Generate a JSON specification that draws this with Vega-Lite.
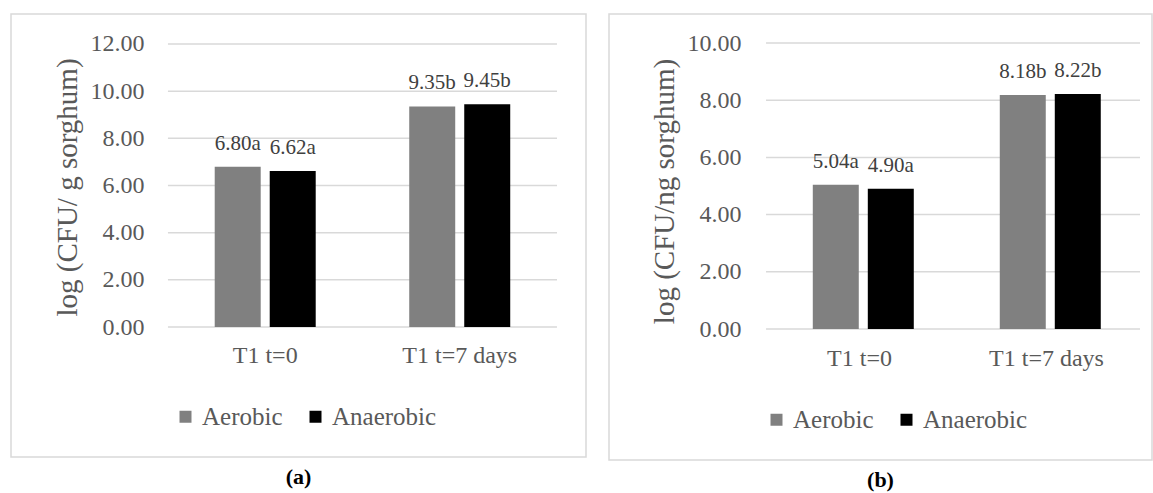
{
  "$schema": "https://vega.github.io/schema/vega-lite/v6.json",
  "padding": {"left": 10, "top": 13, "right": 0, "bottom": 0},
  "spacing": 21,
  "background": "white",
  "config": {
    "view": {"stroke": "#d9d9d9", "strokeWidth": 1.5},
    "font": "Liberation Serif",
    "axis": {"labelFont": "Liberation Serif", "titleFont": "Liberation Serif", "labelColor": "#595959", "titleColor": "#595959", "titleFontWeight": "normal", "grid": false, "domain": false, "ticks": false, "tickSize": 0},
    "legend": {"labelFont": "Liberation Serif", "labelColor": "#595959"},
    "title": {"font": "Liberation Serif"}
  },
  "datasets": {
    "a": [
      {"period": "T1 t=0", "condition": "Aerobic", "value": 6.80, "label": "6.80a"},
      {"period": "T1 t=0", "condition": "Anaerobic", "value": 6.62, "label": "6.62a"},
      {"period": "T1 t=7 days", "condition": "Aerobic", "value": 9.35, "label": "9.35b"},
      {"period": "T1 t=7 days", "condition": "Anaerobic", "value": 9.45, "label": "9.45b"}
    ],
    "b": [
      {"period": "T1 t=0", "condition": "Aerobic", "value": 5.04, "label": "5.04a"},
      {"period": "T1 t=0", "condition": "Anaerobic", "value": 4.90, "label": "4.90a"},
      {"period": "T1 t=7 days", "condition": "Aerobic", "value": 8.18, "label": "8.18b"},
      {"period": "T1 t=7 days", "condition": "Anaerobic", "value": 8.22, "label": "8.22b"}
    ],
    "grida": [{"v": 0}, {"v": 2}, {"v": 4}, {"v": 6}, {"v": 8}, {"v": 10}, {"v": 12}],
    "gridb": [{"v": 0}, {"v": 2}, {"v": 4}, {"v": 6}, {"v": 8}, {"v": 10}]
  },
  "resolve": {"scale": {"color": "independent"}, "legend": {"color": "independent"}},
  "hconcat": [
    {
      "width": 575,
      "height": 443,
      "title": {"text": "(a)", "orient": "bottom", "fontSize": 22, "fontWeight": "bold", "color": "#000000", "offset": 10},
      "layer": [
        {
          "data": {"name": "grida"},
          "mark": {"type": "rule", "color": "#d9d9d9", "strokeWidth": 1.5},
          "encoding": {
            "y": {"field": "v", "type": "quantitative"},
            "x": {"datum": "T1 t=0", "type": "nominal", "bandPosition": 0},
            "x2": {"datum": "T1 t=7 days", "bandPosition": 1}
          }
        },
        {
          "data": {"name": "a"},
          "mark": {"type": "bar"},
          "encoding": {
            "x": {"field": "period", "type": "nominal", "sort": null,
                  "scale": {"paddingInner": 0, "paddingOuter": 0.478, "align": 0.844},
                  "axis": {"title": null, "labelAngle": 0, "labelAlign": "center", "bandPosition": 0.5, "labelFontSize": 24, "labelPadding": 0, "offset": -102}},
            "xOffset": {"field": "condition", "type": "nominal", "scale": {"paddingInner": 0.164, "paddingOuter": 0.85}},
            "y": {"field": "value", "type": "quantitative",
                  "scale": {"domain": [-5.512, 13.272], "nice": false, "zero": false},
                  "axis": {"title": "log (CFU/ g sorghum)", "values": [0, 2, 4, 6, 8, 10, 12], "format": ".2f", "labelFontSize": 24, "labelPadding": 0, "offset": -133, "titleFontSize": 29, "titlePadding": 8, "titleY": 173}},
            "y2": {"datum": 0},
            "color": {"field": "condition", "type": "nominal",
                      "scale": {"domain": ["Aerobic", "Anaerobic"], "range": ["#808080", "#000000"]},
                      "legend": {"title": null, "orient": "none", "direction": "horizontal", "legendX": 162, "legendY": 390, "padding": 0, "symbolType": "square", "symbolSize": 144, "symbolStrokeWidth": 0, "labelFontSize": 25, "labelOffset": 4, "columnPadding": 20}}
          }
        },
        {
          "data": {"name": "a"},
          "mark": {"type": "text", "baseline": "alphabetic", "dy": -17, "fontSize": 21, "color": "#404040"},
          "encoding": {
            "x": {"field": "period", "type": "nominal", "sort": null},
            "xOffset": {"field": "condition", "type": "nominal"},
            "y": {"field": "value", "type": "quantitative"},
            "text": {"field": "label"}
          }
        }
      ]
    },
    {
      "width": 543,
      "height": 446,
      "title": {"text": "(b)", "orient": "bottom", "fontSize": 22, "fontWeight": "bold", "color": "#000000", "offset": 10},
      "layer": [
        {
          "data": {"name": "gridb"},
          "mark": {"type": "rule", "color": "#d9d9d9", "strokeWidth": 1.5},
          "encoding": {
            "y": {"field": "v", "type": "quantitative"},
            "x": {"datum": "T1 t=0", "type": "nominal", "bandPosition": 0},
            "x2": {"datum": "T1 t=7 days", "bandPosition": 1}
          }
        },
        {
          "data": {"name": "b"},
          "mark": {"type": "bar"},
          "encoding": {
            "x": {"field": "period", "type": "nominal", "sort": null,
                  "scale": {"paddingInner": 0, "paddingOuter": 0.452, "align": 0.929},
                  "axis": {"title": null, "labelAngle": 0, "labelAlign": "center", "bandPosition": 0.5, "labelFontSize": 24, "labelPadding": 0, "offset": -102}},
            "xOffset": {"field": "condition", "type": "nominal", "scale": {"paddingInner": 0.17, "paddingOuter": 0.849}},
            "y": {"field": "value", "type": "quantitative",
                  "scale": {"domain": [-4.58, 11.014], "nice": false, "zero": false},
                  "axis": {"title": "log (CFU/ng sorghum)", "values": [0, 2, 4, 6, 8, 10], "format": ".2f", "labelFontSize": 24, "labelPadding": 0, "offset": -132, "titleFontSize": 29, "titlePadding": 8, "titleY": 177}},
            "y2": {"datum": 0},
            "color": {"field": "condition", "type": "nominal",
                      "scale": {"domain": ["Aerobic", "Anaerobic"], "range": ["#808080", "#000000"]},
                      "legend": {"title": null, "orient": "none", "direction": "horizontal", "legendX": 155, "legendY": 393, "padding": 0, "symbolType": "square", "symbolSize": 144, "symbolStrokeWidth": 0, "labelFontSize": 25, "labelOffset": 4, "columnPadding": 20}}
          }
        },
        {
          "data": {"name": "b"},
          "mark": {"type": "text", "baseline": "alphabetic", "dy": -17, "fontSize": 21, "color": "#404040"},
          "encoding": {
            "x": {"field": "period", "type": "nominal", "sort": null},
            "xOffset": {"field": "condition", "type": "nominal"},
            "y": {"field": "value", "type": "quantitative"},
            "text": {"field": "label"}
          }
        }
      ]
    }
  ]
}
